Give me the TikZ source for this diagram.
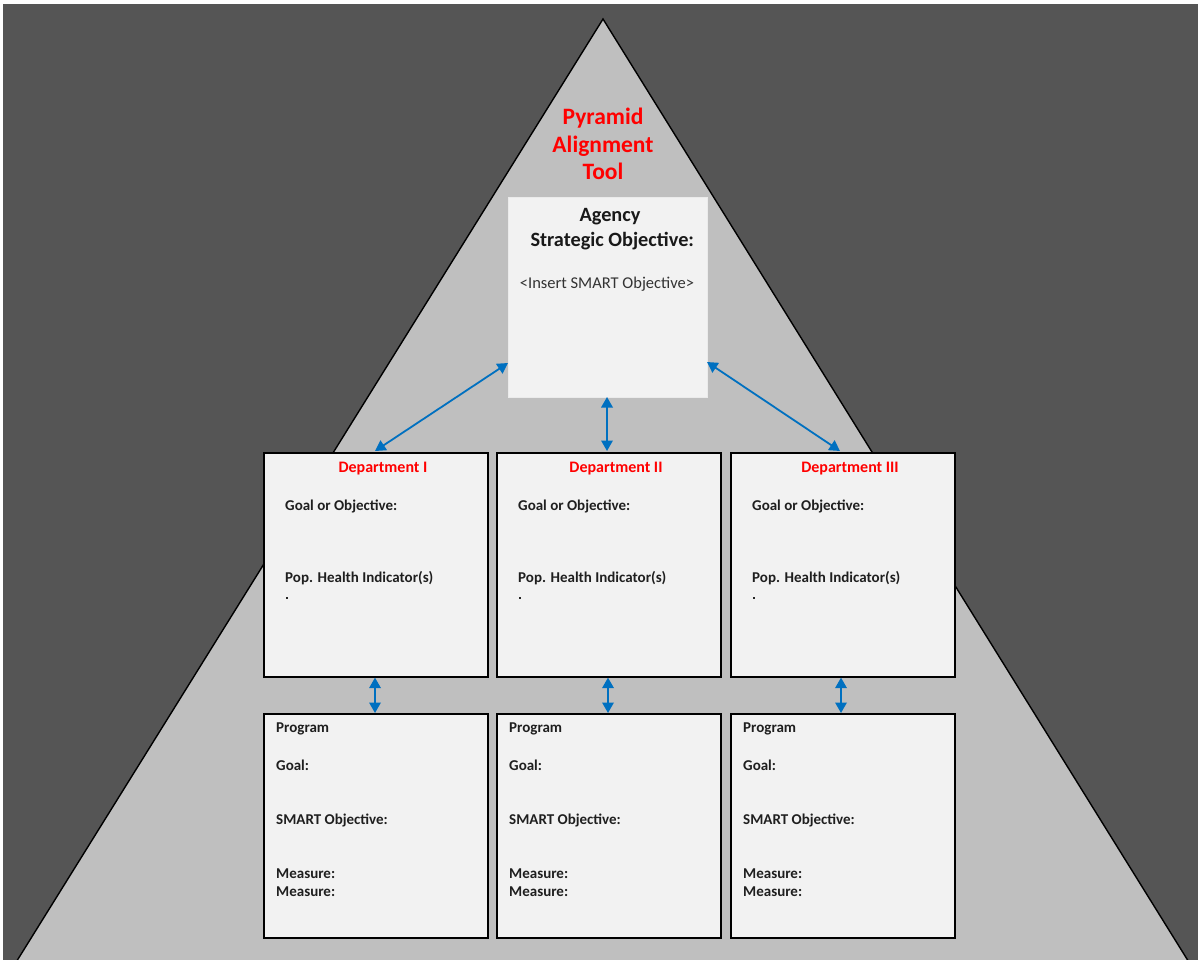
\documentclass[tikz,border=0pt]{standalone}
\usepackage{fontspec}
\setmainfont{Carlito}
\usetikzlibrary{arrows.meta}
\definecolor{bgdark}{HTML}{555555}
\definecolor{pyr}{HTML}{BFBFBF}
\definecolor{boxfill}{HTML}{F2F2F2}
\definecolor{arrowblue}{HTML}{0070C0}
\definecolor{titlered}{HTML}{FF0000}
\tikzset{
  deptbox/.style={draw=black, line width=1.6pt, fill=boxfill, minimum width=224pt, minimum height=224pt, anchor=north west, inner sep=0pt},
  agencybox/.style={draw=white!92!black, line width=1.2pt, fill=boxfill, minimum width=199pt, minimum height=200pt, anchor=north west, inner sep=0pt},
  lbl/.style={font=\fontsize{15}{17}\selectfont\bfseries, anchor=west, inner sep=0pt, text=black!88},
  deptlbl/.style={font=\fontsize{16}{18}\selectfont\bfseries, text=titlered, inner sep=0pt},
  link/.style={draw=arrowblue, line width=1.8pt, {Triangle[width=11.5pt,length=10.5pt]}-{Triangle[width=11.5pt,length=10.5pt]}, shorten <=0pt, shorten >=0pt},
}
\begin{document}
\begin{tikzpicture}[x=1pt,y=-1pt]
\useasboundingbox (0,0) rectangle (1198,960);
\fill[white] (0,0) rectangle (1198,960);
\fill[bgdark] (3,4) rectangle (1198,960);
\draw[fill=pyr, line width=1.4pt, line join=miter] (603,19) -- (5,980) -- (1200,980) -- cycle;

% title
\node[font=\fontsize{23.5}{27.5}\selectfont\bfseries, text=titlered, align=center, inner sep=0pt] (title) at (603,144) {Pyramid\\Alignment\\Tool};

% agency box
\node[agencybox] (agency) at (508,197) {};
\node[font=\fontsize{20.3}{25}\selectfont\bfseries, align=center, inner sep=0pt, text=black!90] (agencyt) at (610,229.5) {Agency\\\ Strategic Objective:};
\node[font=\fontsize{16.5}{19}\selectfont, inner sep=0pt, text=black!80] (agencyi) at (607,284) {<Insert SMART Objective>};

% department boxes
\foreach \i/\x/\name in {1/263/Department I,2/496/Department II,3/730/Department III}{
  \node[deptbox] (dept\i) at (\x,452) {};
  \node[deptlbl] (dname\i) at (\x+120,469) {\name};
  \node[lbl] (dgoal\i) at (\x+22,506) {Goal or Objective:};
  \node[lbl] (dind\i) at (\x+22,578) {Pop. Health Indicator(s)};
  \node[fill=black!85, minimum size=2.6pt, inner sep=0pt] (dbul\i) at (\x+24,598) {};
  \node[deptbox] (prog\i) at (\x,713) {};
  \node[lbl] (pt\i) at (\x+13,729) {Program};
  \node[lbl] (pg\i) at (\x+13,765) {Goal:};
  \node[lbl] (ps\i) at (\x+13,820) {SMART Objective:};
  \node[lbl] (pm\i) at (\x+13,874) {Measure:};
  \node[lbl] (pn\i) at (\x+13,892) {Measure:};
}

% connectors
\coordinate (a1) at (508,363);
\coordinate (d1) at (375,451);
\coordinate (a2) at (607,397);
\coordinate (d2) at (607,451);
\coordinate (a3) at (707,362);
\coordinate (d3) at (840,451);
\draw[link] (a1) -- (d1);
\draw[link] (a2) -- (d2);
\draw[link] (a3) -- (d3);
\draw[link] (dept1.south -| 375,0) -- (prog1.north -| 375,0);
\draw[link] (dept2.south -| 608,0) -- (prog2.north -| 608,0);
\draw[link] (dept3.south -| 841,0) -- (prog3.north -| 841,0);
\end{tikzpicture}
\end{document}
